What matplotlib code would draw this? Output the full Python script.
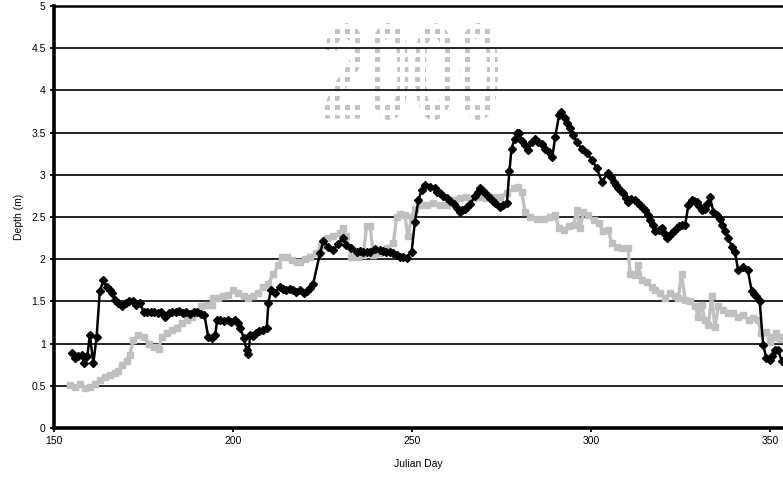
import numpy as np
import matplotlib
matplotlib.use('Agg')
import matplotlib.pyplot as plt
from matplotlib.textpath import TextPath
from matplotlib.font_manager import FontProperties
from matplotlib.patches import PathPatch, Rectangle
from matplotlib.collections import PatchCollection
from matplotlib.transforms import Affine2D, IdentityTransform

plt.rcParams['font.family'] = ['Liberation Sans Narrow', 'Liberation Sans', 'DejaVu Sans']

# black series (diamonds)
black_day = [
	154.9, 155.9, 156.8, 157.7, 158.4, 159.3, 160.0, 161.0, 161.9, 162.8,
	163.8, 164.7, 165.6, 166.3, 167.0, 168.0, 169.0, 170.0, 171.0, 172.0,
	173.0, 174.0, 175.0, 176.0, 177.0, 178.0, 179.0, 180.0, 181.0, 182.0,
	183.0, 184.0, 185.0, 186.0, 187.0, 188.0, 189.0, 190.0, 191.0, 192.0,
	193.1, 194.0, 195.0, 195.6, 196.5, 197.5, 198.5, 199.5, 200.5, 201.3,
	202.0, 203.0, 203.8, 204.3, 204.8, 205.6, 206.5, 207.4, 208.4, 209.4,
	209.9, 210.6, 211.7, 213.0, 214.0, 214.9, 215.9, 216.7, 217.7, 218.7,
	219.7, 220.7, 221.5, 222.4, 224.3, 225.2, 226.6, 228.0, 229.4, 230.8,
	231.7, 233.1, 234.5, 235.5, 236.4, 237.3, 238.2, 239.6, 241.0, 242.0,
	242.8, 243.8, 244.8, 245.7, 246.6, 247.5, 248.5, 249.9, 250.8, 251.8,
	252.7, 253.6, 255.0, 256.4, 257.1, 257.8, 258.7, 259.7, 260.6, 261.6,
	262.5, 263.4, 264.1, 264.8, 265.5, 266.2, 267.6, 268.3, 269.0, 269.7,
	270.4, 271.1, 271.8, 272.5, 273.2, 274.6, 275.5, 276.5, 277.2, 277.8,
	278.7, 279.4, 280.0, 280.6, 281.6, 282.5, 283.5, 284.4, 285.3, 286.3,
	287.2, 288.2, 289.2, 290.0, 291.1, 291.7, 292.7, 293.4, 294.1, 295.0,
	296.0, 297.4, 298.8, 300.2, 301.6, 303.0, 304.8, 305.5, 306.3, 307.0,
	307.6, 308.3, 309.0, 309.7, 310.4, 311.3, 312.3, 313.0, 313.7, 314.4,
	315.1, 315.8, 316.5, 317.2, 318.0, 318.9, 319.8, 320.4, 321.1, 321.8,
	322.5, 323.2, 323.9, 324.6, 325.3, 326.3, 327.2, 328.1, 328.8, 329.5,
	330.2, 330.9, 331.8, 332.5, 333.2, 334.2, 335.1, 336.0, 336.7, 337.4,
	338.4, 339.3, 340.2, 341.1, 342.5, 343.8, 344.9, 345.5, 346.1, 347.1,
	348.1, 349.0, 349.9, 350.6, 351.4, 352.3, 353.3,
]
black_depth = [
	0.89, 0.83, 0.85, 0.87, 0.77, 0.85, 1.10, 0.77, 1.08, 1.62,
	1.75, 1.67, 1.64, 1.60, 1.52, 1.48, 1.45, 1.48, 1.51, 1.50,
	1.46, 1.48, 1.38, 1.37, 1.37, 1.38, 1.36, 1.37, 1.32, 1.36,
	1.38, 1.37, 1.39, 1.36, 1.38, 1.35, 1.38, 1.37, 1.35, 1.34,
	1.08, 1.07, 1.10, 1.28, 1.28, 1.27, 1.28, 1.26, 1.28, 1.25,
	1.18, 1.07, 0.92, 0.88, 1.10, 1.09, 1.13, 1.15, 1.16, 1.18,
	1.48, 1.64, 1.60, 1.67, 1.65, 1.64, 1.65, 1.63, 1.61, 1.63,
	1.60, 1.62, 1.66, 1.71, 2.07, 2.21, 2.15, 2.11, 2.18, 2.25,
	2.17, 2.13, 2.09, 2.10, 2.08, 2.09, 2.09, 2.12, 2.11, 2.10,
	2.09, 2.09, 2.07, 2.05, 2.03, 2.03, 2.02, 2.09, 2.44, 2.70,
	2.82, 2.88, 2.86, 2.84, 2.80, 2.78, 2.75, 2.72, 2.69, 2.65,
	2.61, 2.56, 2.58, 2.60, 2.62, 2.65, 2.75, 2.80, 2.84, 2.81,
	2.78, 2.75, 2.72, 2.69, 2.66, 2.62, 2.64, 2.66, 3.04, 3.31,
	3.43, 3.49, 3.50, 3.40, 3.35, 3.29, 3.39, 3.43, 3.39, 3.37,
	3.31, 3.27, 3.21, 3.45, 3.71, 3.75, 3.67, 3.61, 3.55, 3.47,
	3.39, 3.31, 3.26, 3.18, 3.08, 2.92, 3.02, 2.97, 2.92, 2.88,
	2.84, 2.81, 2.78, 2.73, 2.68, 2.71, 2.70, 2.67, 2.64, 2.61,
	2.58, 2.52, 2.46, 2.40, 2.33, 2.35, 2.37, 2.31, 2.25, 2.28,
	2.31, 2.34, 2.37, 2.39, 2.41, 2.41, 2.64, 2.70, 2.69, 2.68,
	2.63, 2.58, 2.60, 2.65, 2.74, 2.56, 2.52, 2.48, 2.41, 2.34,
	2.25, 2.15, 2.09, 1.87, 1.91, 1.87, 1.62, 1.59, 1.56, 1.51,
	0.98, 0.83, 0.81, 0.85, 0.92, 0.92, 0.79,
]

# grey series (squares)
grey_day = [
	154.5, 155.9, 157.3, 158.7, 160.0, 161.4, 162.8, 164.2, 165.6, 167.0,
	167.9, 168.9, 170.3, 171.2, 172.2, 173.6, 175.0, 176.4, 177.8, 179.2,
	180.1, 181.5, 182.9, 184.3, 185.7, 187.1, 188.5, 189.9, 191.2, 192.6,
	194.0, 194.5, 195.9, 197.3, 198.7, 200.1, 201.5, 203.0, 204.3, 205.7,
	207.1, 208.5, 209.9, 211.3, 212.7, 213.6, 215.0, 216.4, 217.8, 218.7,
	220.1, 221.5, 223.3, 224.7, 226.2, 228.0, 229.9, 230.8, 231.7, 233.1,
	235.0, 236.4, 237.3, 238.3, 239.2, 241.0, 242.9, 244.8, 245.7, 246.6,
	248.0, 248.9, 249.9, 250.8, 252.2, 254.1, 255.9, 257.8, 259.7, 261.5,
	263.4, 265.2, 267.1, 269.0, 270.8, 272.7, 274.6, 276.5, 278.4, 279.7,
	280.6, 281.6, 283.0, 284.9, 286.8, 288.6, 290.0, 291.0, 292.4, 293.8,
	295.2, 296.0, 297.0, 297.9, 299.3, 300.7, 302.1, 303.4, 304.8, 305.8,
	307.2, 308.6, 310.4, 310.9, 312.3, 313.2, 314.2, 315.6, 317.0, 317.9,
	319.3, 320.7, 322.1, 323.5, 324.4, 325.3, 326.3, 327.7, 329.1, 330.0,
	330.9, 331.8, 332.8, 333.7, 334.6, 335.6, 337.0, 338.4, 339.8, 341.1,
	342.5, 344.0, 345.3, 346.7, 347.6, 349.0, 350.0, 350.8, 351.8, 352.7,
	353.5,
]
grey_depth = [
	0.51, 0.49, 0.52, 0.47, 0.49, 0.52, 0.57, 0.61, 0.63, 0.65,
	0.67, 0.75, 0.79, 0.87, 1.04, 1.10, 1.08, 1.00, 0.96, 0.94,
	1.08, 1.12, 1.16, 1.18, 1.24, 1.28, 1.32, 1.36, 1.44, 1.46,
	1.46, 1.54, 1.54, 1.56, 1.58, 1.63, 1.60, 1.56, 1.54, 1.56,
	1.60, 1.67, 1.71, 1.83, 1.93, 2.03, 2.03, 1.99, 1.97, 1.97,
	2.00, 2.03, 2.07, 2.16, 2.25, 2.27, 2.31, 2.37, 2.27, 2.03,
	2.03, 2.05, 2.39, 2.39, 2.05, 2.07, 2.13, 2.19, 2.50, 2.54,
	2.52, 2.27, 2.50, 2.60, 2.64, 2.64, 2.66, 2.64, 2.64, 2.70,
	2.72, 2.74, 2.72, 2.74, 2.72, 2.74, 2.74, 2.78, 2.84, 2.86,
	2.80, 2.56, 2.50, 2.48, 2.48, 2.50, 2.52, 2.37, 2.35, 2.39,
	2.41, 2.58, 2.37, 2.56, 2.52, 2.46, 2.43, 2.33, 2.35, 2.19,
	2.15, 2.13, 2.13, 1.83, 1.81, 1.93, 1.75, 1.73, 1.67, 1.63,
	1.60, 1.54, 1.60, 1.56, 1.54, 1.83, 1.52, 1.50, 1.44, 1.32,
	1.46, 1.28, 1.22, 1.56, 1.20, 1.44, 1.40, 1.36, 1.36, 1.32,
	1.34, 1.28, 1.30, 1.28, 1.12, 1.14, 1.02, 1.08, 1.12, 1.06,
	1.08,
]

x_ticks = [150, 200, 250, 300, 350]
y_ticks = [0, 0.5, 1, 1.5, 2, 2.5, 3, 3.5, 4, 4.5, 5]
y_labels = ['0', '0.5', '1', '1.5', '2', '2.5', '3', '3.5', '4', '4.5', '5']
year_text = '2000'


def add_year(ax):
	# dotted "2000" stamp, grid of small squares clipped to the glyphs (pixel coords)
	prop = FontProperties(family=['Liberation Sans', 'DejaVu Sans'], weight='bold')
	tp = TextPath((0, 0), year_text, prop=prop, size=100)
	ext = tp.get_extents()
	x0, x1, y0, y1 = 325, 498, 360, 457
	tr = Affine2D().translate(-ext.x0, -ext.y0).scale((x1 - x0) / ext.width, (y1 - y0) / ext.height).translate(x0, y0)
	clip = PathPatch(tr.transform_path(tp), transform=IdentityTransform(), facecolor='none', edgecolor='none')

	squares = []
	for gx in np.arange(x0, x1, 10.0):
		for gy in np.arange(y0, y1, 9.6):
			squares.append(Rectangle((gx, gy), 5, 5))
	coll = PatchCollection(squares, facecolor='#c4c4c4', edgecolor='none',
		transform=IdentityTransform(), zorder=0.3)
	ax.add_collection(coll, autolim=False)
	coll.set_clip_path(clip)


def main():
	fig = plt.figure(figsize=(7.83, 4.8), dpi=100)
	ax = fig.add_axes([54 / 783, 52 / 480, 729 / 783, 422 / 480])

	ax.plot(grey_day, grey_depth, '-s', color='#c0c0c0', lw=2.4, ms=3.8, mec='#c0c0c0', zorder=2)
	ax.plot(black_day, black_depth, '-D', color='black', lw=1.8, ms=4.5, zorder=3)

	ax.set_xlim(150, 150 + 729 / 3.58)
	ax.set_ylim(0, 5)
	ax.set_xticks(x_ticks)
	ax.set_yticks(y_ticks)
	ax.set_yticklabels(y_labels)
	ax.tick_params(axis='both', labelsize=7.5, length=3, width=1.3, direction='out', pad=3)

	ax.set_axisbelow(True)
	ax.grid(axis='y', color='black', lw=1.2)
	for side in ['left', 'bottom']:
		ax.spines[side].set_linewidth(2.6)
	ax.spines['top'].set_linewidth(1.8)
	ax.spines['right'].set_visible(False)

	ax.set_xlabel('Julian Day', fontsize=7.5, labelpad=9)
	ax.set_ylabel('Depth (m)', fontsize=7.5, labelpad=5)

	add_year(ax)

	fig.savefig('out.png', dpi=100)


if __name__ == '__main__':
	main()
